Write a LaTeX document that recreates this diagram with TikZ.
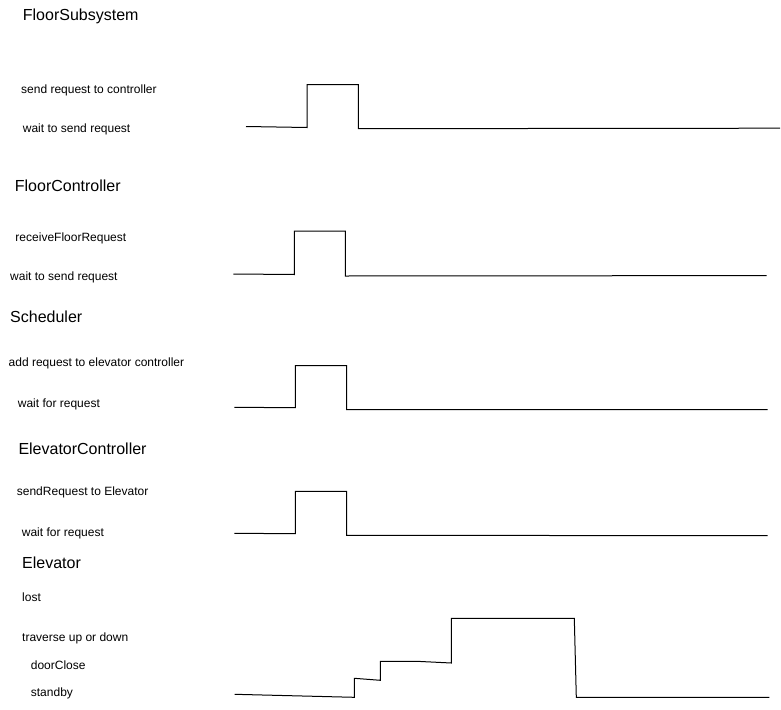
\documentclass[tikz,border=0pt]{standalone}
\usepackage{fontspec}
\setmainfont{Liberation Sans}
\usetikzlibrary{positioning, calc}
\tikzset{
		title/.style={anchor=base west, inner sep=0pt, font=\fontsize{16}{19}\selectfont},
		state/.style={anchor=base west, inner sep=0pt, font=\fontsize{12}{14}\selectfont},
		signal/.style={line width=1pt, line join=miter},
}

\begin{document}
\begin{tikzpicture}[x=1pt, y=-1pt]
		\useasboundingbox (0,0) rectangle (781,709);

		% FloorSubsystem
		\node[title] (fs) at (22.7,20.7) {FloorSubsystem};
		\node[state] (fs send) at (21,93.7) {send request to controller};
		\node[state] (fs wait) at (22.7,132.7) {wait to send request};
		\coordinate (FS0) at (246,126.5);
		\coordinate (FS1) at (307,127.5);
		\coordinate (FS2) at (307,84.7);
		\coordinate (FS3) at (358.3,84.7);
		\coordinate (FS4) at (358.3,128.7);
		\coordinate (FS5) at (780,128.2);
		\draw[signal] (FS0) -- (FS1) -- (FS2) -- (FS3) -- (FS4) -- (FS5);

		% FloorController
		\node[title] (fc) at (14.7,191) {FloorController};
		\node[state] (fc receive) at (15.3,241) {receiveFloorRequest};
		\node[state] (fc wait) at (10,280) {wait to send request};
		\coordinate (FC0) at (233.3,274);
		\coordinate (FC1) at (294.3,274.5);
		\coordinate (FC2) at (294.3,231);
		\coordinate (FC3) at (345.3,231);
		\coordinate (FC4) at (345.3,276);
		\coordinate (FC5) at (766.7,275.6);
		\draw[signal] (FC0) -- (FC1) -- (FC2) -- (FC3) -- (FC4) -- (FC5);

		% Scheduler
		\node[title] (sc) at (10,322.7) {Scheduler};
		\node[state] (sc add) at (8.5,366.7) {add request to elevator controller};
		\node[state] (sc wait) at (17.7,407.3) {wait for request};
		\coordinate (SC0) at (234.3,407.3);
		\coordinate (SC1) at (295.3,407.7);
		\coordinate (SC2) at (295.3,365.7);
		\coordinate (SC3) at (346.7,365.7);
		\coordinate (SC4) at (346.7,409.7);
		\coordinate (SC5) at (767.7,409.7);
		\draw[signal] (SC0) -- (SC1) -- (SC2) -- (SC3) -- (SC4) -- (SC5);

		% ElevatorController
		\node[title] (ec) at (18.3,454) {ElevatorController};
		\node[state] (ec send) at (16.7,495) {sendRequest to Elevator};
		\node[state] (ec wait) at (21.7,536.7) {wait for request};
		\coordinate (EC0) at (234.3,533.3);
		\coordinate (EC1) at (295.3,533.7);
		\coordinate (EC2) at (295.3,491.3);
		\coordinate (EC3) at (346.7,491.3);
		\coordinate (EC4) at (346.7,535.3);
		\coordinate (EC5) at (767.7,535.7);
		\draw[signal] (EC0) -- (EC1) -- (EC2) -- (EC3) -- (EC4) -- (EC5);

		% Elevator
		\node[title] (el) at (22,568.3) {Elevator};
		\node[state] (el lost) at (22,601.7) {lost};
		\node[state] (el traverse) at (22,641.7) {traverse up or down};
		\node[state] (el door) at (30.7,669.3) {doorClose};
		\node[state] (el standby) at (30.7,696.7) {standby};
		\coordinate (EL0) at (234.7,694.3);
		\coordinate (EL1) at (354.3,697.3);
		\coordinate (EL2) at (354.3,678.3);
		\coordinate (EL3) at (380.3,680.3);
		\coordinate (EL4) at (380.3,661.3);
		\coordinate (EL5) at (416.7,661.3);
		\coordinate (EL6) at (451.3,663);
		\coordinate (EL7) at (451.3,618.3);
		\coordinate (EL8) at (574.3,618.3);
		\coordinate (EL9) at (576.3,697.3);
		\coordinate (EL10) at (769.3,697.3);
		\draw[signal] (EL0) -- (EL1) -- (EL2) -- (EL3) -- (EL4) -- (EL5) -- (EL6) -- (EL7) -- (EL8) -- (EL9) -- (EL10);
	\end{tikzpicture}
\end{document}
